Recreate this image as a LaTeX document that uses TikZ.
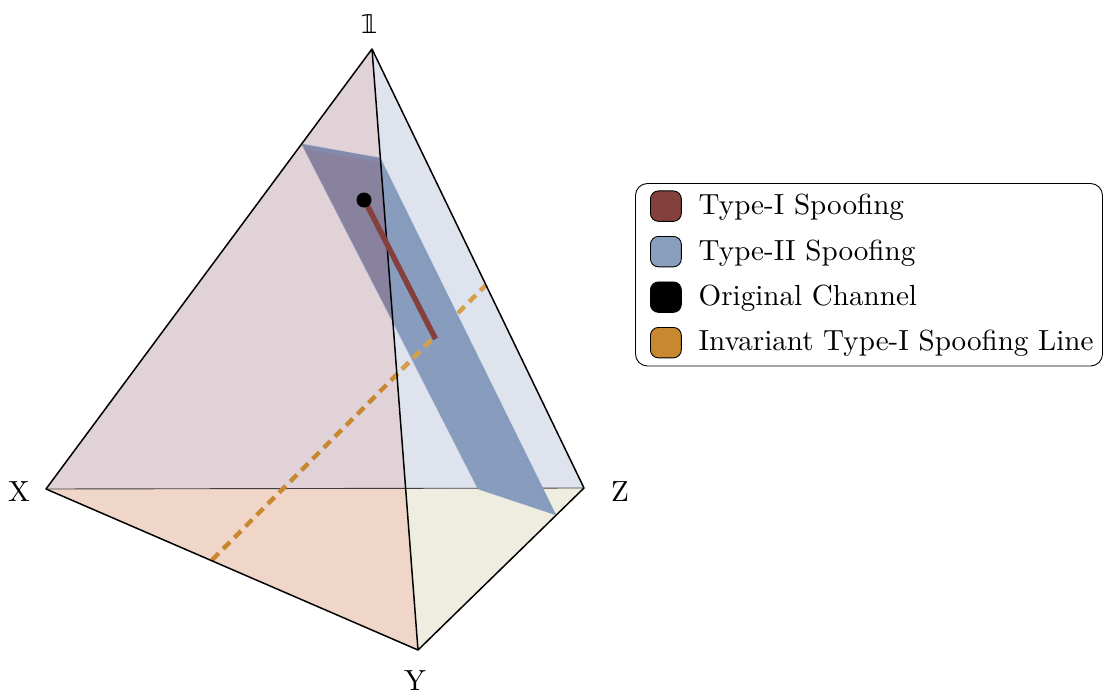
\documentclass[tikz,border=0pt]{standalone}
\usepackage{fontspec}
\setmainfont{lmroman10-regular}[Extension=.otf]
\newfontfamily\bbfont{DejaVu Sans}
\definecolor{facepink}{HTML}{E0D2D6}
\definecolor{faceblue}{HTML}{DFE3ED}
\definecolor{facepeach}{HTML}{F0D6C8}
\definecolor{facecream}{HTML}{EEEDE0}
\definecolor{planeblue}{HTML}{889DBD}
\definecolor{planedark}{HTML}{88829F}
\definecolor{planeedge}{HTML}{7C98C0}
\definecolor{spoofred}{HTML}{84403C}
\definecolor{swatchblue}{HTML}{8A9EBE}
\definecolor{lineorange}{HTML}{C8882F}
\definecolor{lineorangelight}{HTML}{D6A04A}
\tikzset{
  edgeline/.style={black,line width=1.5pt},
  invline/.style={line width=4.4pt,dash pattern=on 9.5pt off 6.4pt},
  lab/.style={font=\fontsize{29.2}{33}\selectfont,inner sep=0pt,text=black},
  legtext/.style={lab,anchor=base west},
  swatch/.style={draw=black,line width=0.9pt,rounded corners=8pt,minimum width=31pt,minimum height=30.5pt,inner sep=0pt,anchor=north west},
}
\begin{document}
\begin{tikzpicture}[x=1bp,y=-1bp]
\useasboundingbox (0,0) rectangle (1103,693);
\coordinate (I) at (372,49);
\coordinate (X) at (46,489);
\coordinate (Y) at (418,650);
\coordinate (Z) at (584,488);
\coordinate (M) at (405.7,489);
\coordinate (PA) at (301.6,144);
\coordinate (PB) at (380.3,158);
\coordinate (PC) at (556,515);
\coordinate (PD) at (478,489);
\coordinate (PE) at (392.9,322);
\coordinate (LA) at (212,560);
\coordinate (LB) at (486,285);
\coordinate (RA) at (366.5,204);
\coordinate (RB) at (435.5,339);
% faces
\fill[facepink] (I) -- (X) -- (M) -- cycle;
\fill[faceblue] (I) -- (Z) -- (M) -- cycle;
\fill[facepeach] (X) -- (Y) -- (M) -- cycle;
\fill[facecream] (Y) -- (Z) -- (M) -- cycle;
\draw[black!70!facepink,line width=0.9pt] (X) -- (Z);
% invariant line
\begin{scope}
  \clip (0,0) -- (372,0) -- (372,49) -- (405.7,489) -- (418,693) -- (0,693) -- cycle;
  \draw[invline,lineorange] (LA) -- (LB);
\end{scope}
\begin{scope}
  \clip (372,0) -- (1103,0) -- (1103,693) -- (418,693) -- (405.7,489) -- (372,49) -- cycle;
  \draw[invline,lineorangelight] (LA) -- (LB);
\end{scope}
% plane
\fill[planedark] (PA) -- (PB) -- (PE) -- cycle;
\fill[planeblue] (PB) -- (PC) -- (PD) -- (PE) -- cycle;
\draw[planeedge,opacity=0.3,line width=1pt,line join=round] (PA) -- (PB) -- (PC) -- (PD) -- cycle;
\begin{scope}
  \clip (PA) -- (PB) -- (PE) -- cycle;
  \draw[planeedge,opacity=0.4,line width=9pt] (PA) -- (PB);
\end{scope}
\begin{scope}
  \clip (PB) -- (PC) -- (PD) -- (PE) -- cycle;
  \draw[planeedge,opacity=0.15,line width=9pt] (PB) -- (PC);
\end{scope}
% visible dashes through the plane
\begin{scope}
  \clip (395,332) -- (432,332) -- (432,400) -- (395,400) -- cycle;
  \draw[invline,lineorangelight] (LA) -- (LB);
\end{scope}
% spoofing line and channel
\draw[edgeline] (I) -- (Y);
\draw[spoofred,line width=5.5pt] (RA) -- (RB);
\fill[black] (364,200) circle (7.5);
% outer edges
\draw[edgeline,line join=round] (I) -- (X) -- (Y) -- (Z) -- cycle;
% labels
\node[lab,font=\fontsize{26}{30}\selectfont] (l1) at (369,24) {\bbfont 𝟙};
\node[lab] (lx) at (19,491.5) {X};
\node[lab] (ly) at (415,680.5) {Y};
\node[lab] (lz) at (620,492) {Z};
% legend
\draw[black,line width=0.9pt,rounded corners=12pt] (635.5,183.5) rectangle (1102.5,366);
\node[swatch,fill=spoofred] (s1) at (650,190.5) {};
\node[swatch,fill=swatchblue] (s2) at (650,236) {};
\node[swatch,fill=black] (s3) at (650,281.5) {};
\node[swatch,fill=lineorange] (s4) at (650,327) {};
\node[legtext] (t1) at (698.5,215) {Type-I Spoofing};
\node[legtext] (t2) at (698.5,260) {Type-II Spoofing};
\node[legtext] (t3) at (698.5,305) {Original Channel};
\node[legtext] (t4) at (698.5,350) {Invariant Type-I Spoofing Line};
\end{tikzpicture}
\end{document}
